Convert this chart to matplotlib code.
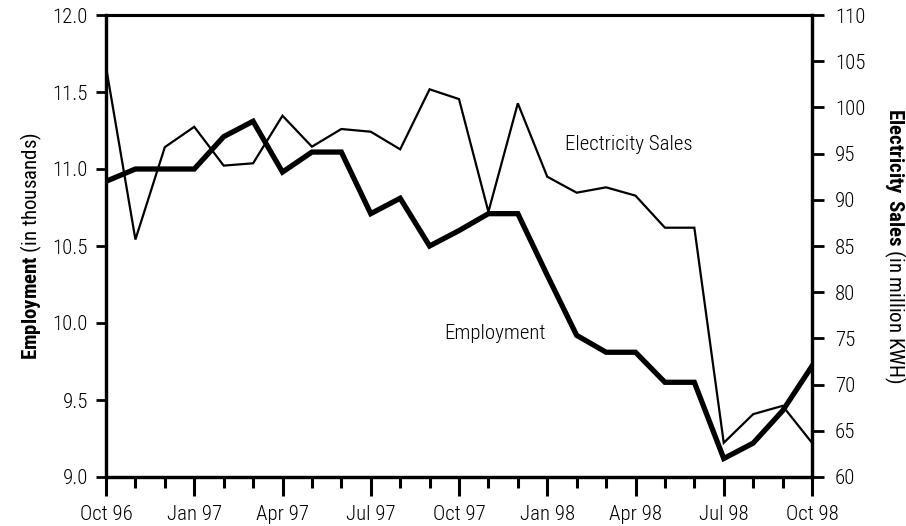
import matplotlib
matplotlib.use("Agg")
import matplotlib.pyplot as plt
from matplotlib import font_manager

months = ["Oct 96", "Nov 96", "Dec 96", "Jan 97", "Feb 97", "Mar 97", "Apr 97", "May 97",
          "Jun 97", "Jul 97", "Aug 97", "Sep 97", "Oct 97", "Nov 97", "Dec 97", "Jan 98",
          "Feb 98", "Mar 98", "Apr 98", "May 98", "Jun 98", "Jul 98", "Aug 98", "Sep 98", "Oct 98"]
employment = [10.92, 11.0, 11.0, 11.0, 11.21, 11.31, 10.98, 11.11, 11.11, 10.71, 10.81, 10.5,
              10.6, 10.71, 10.71, 10.31, 9.92, 9.81, 9.81, 9.615, 9.615, 9.12, 9.22, 9.43, 9.72]
electricity = [104.4, 85.7, 95.7, 97.9, 93.7, 93.95, 99.1, 95.75, 97.66, 97.37, 95.46, 101.96,
               100.9, 88.7, 100.44, 92.5, 90.77, 91.35, 90.45, 86.98, 86.98, 63.7, 66.8, 67.7, 63.7]
x_tick_labels = ["Oct 96", "Jan 97", "Apr 97", "Jul 97", "Oct 97", "Jan 98", "Apr 98", "Jul 98", "Oct 98"]
left_ticks = [9.0, 9.5, 10.0, 10.5, 11.0, 11.5, 12.0]
right_ticks = [60, 65, 70, 75, 80, 85, 90, 95, 100, 105, 110]

installed = {f.name for f in font_manager.fontManager.ttflist}
fam = "DejaVu Sans"
for cand in ["Roboto Condensed", "Liberation Sans Narrow", "Archivo Narrow", "PT Sans Narrow",
             "Barlow Semi Condensed", "Liberation Sans"]:
    if cand in installed:
        fam = cand
        break
plt.rcParams["font.family"] = [fam, "DejaVu Sans"]
plt.rcParams["font.weight"] = "light"
plt.rcParams["mathtext.fontset"] = "custom"
plt.rcParams["mathtext.rm"] = fam + ":light"
plt.rcParams["mathtext.bf"] = fam + ":bold"

fig = plt.figure(figsize=(9.06, 5.26), dpi=100)
ax = fig.add_axes([106/906, 1-477/526, (812-106)/906, (477-15)/526])
ax2 = ax.twinx()

x = list(range(len(months)))
ax.plot(x, employment, color="black", lw=3.8, solid_joinstyle="miter", zorder=3)
ax2.plot(x, electricity, color="black", lw=1.6, solid_joinstyle="miter", zorder=2)

ax.set_xlim(0, 24)
ax.set_ylim(9.0, 12.0)
ax2.set_ylim(60, 110)

ax.set_xticks(list(range(0, 25, 3)))
ax.set_xticklabels(x_tick_labels)
ax.set_xticks(list(range(0, 25)), minor=True)
ax.set_yticks(left_ticks)
ax.set_yticklabels([f"{v:.1f}" for v in left_ticks])
ax2.set_yticks(right_ticks)
ax2.set_yticklabels([str(v) for v in right_ticks])

fs = 15
ax.tick_params(axis="x", which="major", direction="out", length=14, width=2.2, labelsize=fs, pad=6)
ax.tick_params(axis="x", which="minor", direction="out", length=8, width=2.2)
ax.tick_params(axis="y", which="major", direction="out", length=7, width=2.0, labelsize=fs, pad=6)
ax2.tick_params(axis="y", which="major", direction="out", length=8.6, width=2.0, labelsize=fs, pad=8)
ax2.tick_params(axis="x", which="both", length=0)

for a in (ax, ax2):
    for s in a.spines.values():
        s.set_linewidth(2.2)
ax.spines["left"].set_linewidth(2.4)
ax2.spines["right"].set_linewidth(2.4)
ax.spines["bottom"].set_linewidth(2.4)

ax.set_ylabel(r"$\mathbf{Employment}$ (in thousands)", fontsize=fs, labelpad=6)
ax2.set_ylabel(r"$\mathbf{Electricity\ Sales}$ (in million KWH)", fontsize=fs, rotation=-90,
               labelpad=30)

ax2.text(15.6, 96.0, "Electricity Sales", fontsize=fs, ha="left", va="center")
ax.text(11.5, 9.93, "Employment", fontsize=fs, ha="left", va="center")

fig.savefig("out.png", dpi=100)
